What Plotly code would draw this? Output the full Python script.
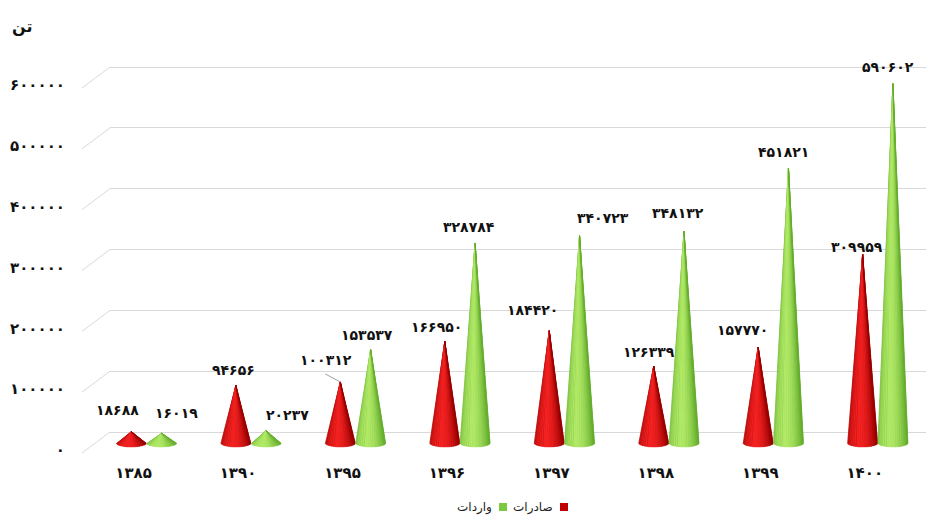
import numpy as np
import plotly.graph_objects as go

years = ["1385", "1390", "1395", "1396", "1397", "1398", "1399", "1400"]
exports = [18688, 94656, 100312, 166950, 184420, 126339, 157770, 309959]   # صادرات
imports = [16019, 20237, 153537, 328784, 340723, 348132, 451821, 590602]   # واردات
y_ticks = [0, 100000, 200000, 300000, 400000, 500000, 600000]
unit_label = "تن"
series_names = ["صادرات", "واردات"]

# label placement offsets (pixels) – styling only
exp_dx = [-14, -2, -14, -8, -17, -5, -16, -6]
exp_dy = [22, 15, 22, 14, 21, 14, 17, 7]
imp_dx = [15, 21, -4, -6, 23, -6, -5, -5]
imp_dy = [20, 16, 15, 16, 18, 18, 16, 17]

FA = str.maketrans("0123456789", "۰۱۲۳۴۵۶۷۸۹")
def fa(v):
    return str(v).translate(FA)

FONT = "DejaVu Sans"
PX = 600000 / 365.0          # data units per pixel
HALF_W = 0.145               # cone half width (x units)
ELL = 4 * PX                 # base ellipse half height
N_STRIPS = 20

# page offset (browser body margin)
OFF = 8
W, H = 934 - OFF, 518 - OFF
L, T = 110 - OFF, 40 - OFF
PW, PH = 820, 415
R = W - L - PW
B = H - T - PH

def px_to_paper(x, y):
    return ((x - OFF) - L) / PW, ((T + PH) - (y - OFF)) / PH

def mix(c1, c2, t):
    return "rgb(%d,%d,%d)" % tuple(int(round(a + (b - a) * t)) for a, b in zip(c1, c2))

def cone_traces(xs, vals, dark, light, name):
    traces = []
    X, Y = [], []
    full = np.linspace(-np.pi / 2, np.pi / 2, 30)
    for xc, v in zip(xs, vals):
        X += [xc] + list(xc + HALF_W * np.sin(full)) + [xc, None]
        Y += [v] + list(-ELL * np.cos(full)) + [v, None]
    traces.append(go.Scatter(x=X, y=Y, xaxis="x", yaxis="y2", mode="lines", fill="toself",
                             fillcolor=mix(dark, light, 0.15), line=dict(width=0),
                             hoverinfo="skip", showlegend=False, name=name))
    phis = np.linspace(-np.pi / 2, np.pi / 2, N_STRIPS + 1)
    for i in range(N_STRIPS):
        p0, p1 = phis[i], phis[i + 1]
        pm = 0.5 * (p0 + p1)
        t = max(0.0, np.cos(pm + 0.3)) ** 1.3
        col = mix(dark, light, t)
        X, Y = [], []
        for xc, v in zip(xs, vals):
            arc = np.linspace(p0, p1, 4)
            X += [xc] + list(xc + HALF_W * np.sin(arc)) + [xc, None]
            Y += [v] + list(-ELL * np.cos(arc)) + [v, None]
        traces.append(go.Scatter(x=X, y=Y, xaxis="x", yaxis="y2", mode="lines",
                                 fill="toself", fillcolor=col, line=dict(width=0.5, color=col),
                                 hoverinfo="skip", showlegend=False, name=name))
    return traces

xi = np.arange(len(years))
x_red = xi - HALF_W
x_green = xi + HALF_W

fig = go.Figure()
for tr in cone_traces(x_red, exports, (150, 0, 0), (245, 35, 35), series_names[0]):
    fig.add_trace(tr)
for tr in cone_traces(x_green, imports, (100, 172, 46), (178, 234, 104), series_names[1]):
    fig.add_trace(tr)

anns = []
for xc, v, dx, dy in zip(x_red, exports, exp_dx, exp_dy):
    anns.append(dict(x=xc, y=v, xref="x", yref="y2", text=fa(v), showarrow=False,
                     xanchor="center", yanchor="middle", yshift=dy, xshift=dx,
                     font=dict(family=FONT, size=14, color="#111", weight="bold")))
for xc, v, dx, dy in zip(x_green, imports, imp_dx, imp_dy):
    anns.append(dict(x=xc, y=v, xref="x", yref="y2", text=fa(v), showarrow=False,
                     xanchor="center", yanchor="middle", yshift=dy, xshift=dx,
                     font=dict(family=FONT, size=14, color="#111", weight="bold")))

tx, ty = px_to_paper(22, 27)
anns.append(dict(x=tx, y=ty, xref="paper", yref="paper", text="<b>%s</b>" % unit_label,
                 showarrow=False, xanchor="center", yanchor="middle",
                 font=dict(family=FONT, size=16, color="#111")))

# legend (right-to-left)
lx1, ly = px_to_paper(555, 507)
anns.append(dict(x=lx1, y=ly, xref="paper", yref="paper", text=series_names[0],
                 showarrow=False, xanchor="right", yanchor="middle",
                 font=dict(family=FONT, size=12, color="#222")))
lx2, _ = px_to_paper(494, 507)
anns.append(dict(x=lx2, y=ly, xref="paper", yref="paper", text=series_names[1],
                 showarrow=False, xanchor="right", yanchor="middle",
                 font=dict(family=FONT, size=12, color="#222")))

shapes = []
for v in y_ticks:
    shapes.append(dict(type="line", xref="paper", yref="y", xsizemode="pixel", ysizemode="pixel",
                       xanchor=0, yanchor=v, x0=-28, x1=0, y0=-21, y1=0,
                       line=dict(color="#d9d9d9", width=1)))
shapes.append(dict(type="line", xref="x", yref="y2", xsizemode="pixel", ysizemode="pixel",
                   xanchor=x_red[2], yanchor=exports[2], x0=-15, x1=0, y0=8, y1=0,
                   line=dict(color="#a0a0a0", width=1)))
for cx, col in [(564, "#c00000"), (503, "#7cc840")]:
    x0, y0 = px_to_paper(cx - 4, 511)
    x1, y1 = px_to_paper(cx + 4, 503)
    shapes.append(dict(type="rect", xref="paper", yref="paper", x0=x0, x1=x1, y0=y0, y1=y1,
                       fillcolor=col, line=dict(color=col, width=0)))

fig.update_layout(
    width=W, height=H,
    margin=dict(l=L, r=R, t=T, b=B, autoexpand=False),
    paper_bgcolor="white", plot_bgcolor="white",
    showlegend=False,
    xaxis=dict(range=[-0.35, 7.5], tickvals=list(xi), ticktext=[fa(y) for y in years],
               showgrid=False, zeroline=False, showline=False, ticks="",
               ticklabelshift=-13, ticklabelstandoff=7,
               tickfont=dict(family=FONT, size=15, color="#111", weight="bold")),
    yaxis=dict(range=[-37808, 644384], tickvals=y_ticks, ticktext=[fa(v) for v in y_ticks],
               showgrid=True, gridcolor="#d9d9d9", gridwidth=1, zeroline=False,
               showline=False, ticks="", ticklabelshift=18, ticklabelstandoff=44,
               tickfont=dict(family=FONT, size=15, color="#111", weight="bold")),
    yaxis2=dict(range=[-19726, 662466], overlaying="y", visible=False),
    shapes=shapes,
    annotations=anns,
)

fig.write_html("out.html")
